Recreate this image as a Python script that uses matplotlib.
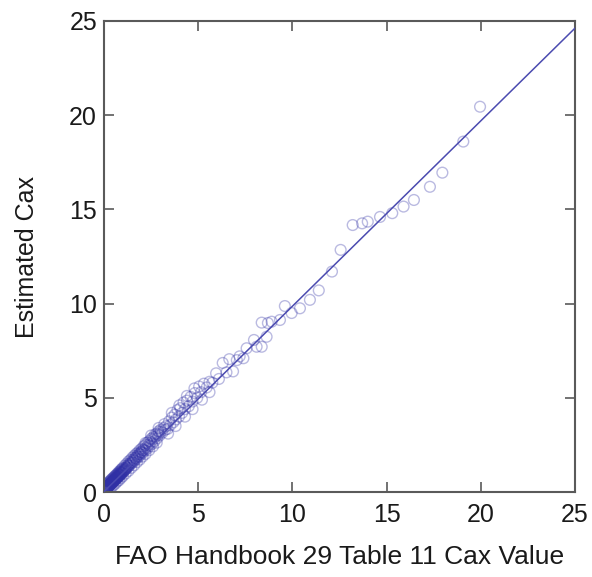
import matplotlib
matplotlib.use("Agg")
import matplotlib.pyplot as plt
import numpy as np

# FAO Handbook 29 Table 11 Cax values (x) and estimated Cax (y)
low_x = [0.02, 0.03, 0.05, 0.06, 0.08, 0.10, 0.11, 0.12, 0.14, 0.15,
         0.17, 0.18, 0.20, 0.21, 0.23, 0.25, 0.26, 0.28, 0.30, 0.31,
         0.33, 0.35, 0.37, 0.39, 0.40, 0.42, 0.44, 0.46, 0.48, 0.50,
         0.52, 0.54, 0.56, 0.58, 0.60, 0.63, 0.65, 0.68, 0.70, 0.72,
         0.75, 0.78, 0.80, 0.83, 0.85, 0.88, 0.90, 0.93, 0.96, 1.00,
         1.03, 1.06, 1.10, 1.13, 1.17, 1.20, 1.25, 1.30, 1.35, 1.42]
low_y = [0.05, 0.08, 0.07, 0.12, 0.10, 0.16, 0.13, 0.19, 0.17, 0.22,
         0.21, 0.26, 0.24, 0.30, 0.27, 0.33, 0.31, 0.36, 0.34, 0.40,
         0.38, 0.43, 0.41, 0.47, 0.45, 0.50, 0.48, 0.54, 0.52, 0.58,
         0.56, 0.62, 0.60, 0.66, 0.64, 0.70, 0.69, 0.75, 0.73, 0.80,
         0.79, 0.85, 0.83, 0.90, 0.88, 0.95, 0.93, 1.00, 1.01, 1.06,
         1.08, 1.12, 1.15, 1.20, 1.22, 1.28, 1.30, 1.38, 1.40, 1.50]

low_extra_x = [0.04, 0.07, 0.09, 0.13, 0.16, 0.19, 0.22, 0.27, 0.32, 0.36,
               0.41, 0.45, 0.49, 0.53, 0.57, 0.62, 0.66, 0.71, 0.76, 0.81,
               0.86, 0.91, 0.97, 1.04, 1.11, 1.18, 1.26, 1.33, 1.41, 1.55,
               1.65, 1.75, 1.85, 1.95, 2.05]
low_extra_y = [0.15, 0.20, 0.18, 0.25, 0.28, 0.33, 0.35, 0.40, 0.46, 0.50,
               0.55, 0.60, 0.63, 0.68, 0.72, 0.78, 0.80, 0.86, 0.92, 0.97,
               1.02, 1.06, 1.12, 1.19, 1.27, 1.33, 1.42, 1.48, 1.58, 1.72,
               1.82, 1.92, 2.02, 2.12, 2.22]

low_above_x = [0.05, 0.10, 0.15, 0.20, 0.25, 0.30, 0.35, 0.40, 0.45, 0.50,
               0.55, 0.60, 0.65, 0.70, 0.75, 0.80, 0.85, 0.90, 0.95, 1.00,
               1.10, 1.20, 1.30, 1.40, 1.50, 1.60, 1.70, 1.80, 1.90, 2.00,
               2.10, 2.20, 2.30, 2.40, 2.50, 2.60, 2.70, 2.80, 2.90, 3.00]
low_above_y = [0.30, 0.35, 0.42, 0.45, 0.52, 0.55, 0.62, 0.66, 0.72, 0.75,
               0.82, 0.86, 0.90, 0.97, 1.00, 1.08, 1.10, 1.18, 1.22, 1.28,
               1.40, 1.50, 1.62, 1.70, 1.82, 1.92, 2.02, 2.10, 2.22, 2.30,
               2.42, 2.50, 2.62, 2.70, 2.82, 2.90, 3.05, 3.10, 3.22, 3.30]

low_below_x = [0.10, 0.20, 0.30, 0.40, 0.50, 0.60, 0.70, 0.80, 0.90, 1.00,
               1.15, 1.30, 1.45, 1.60, 1.75, 1.90, 2.05, 2.20, 2.40, 2.60,
               2.80]
low_below_y = [0.00, 0.08, 0.16, 0.26, 0.35, 0.44, 0.55, 0.63, 0.74, 0.84,
               0.98, 1.12, 1.28, 1.42, 1.58, 1.72, 1.88, 2.02, 2.22, 2.42,
               2.62]

mid_x = [1.48, 1.52, 1.58, 1.62, 1.68, 1.72, 1.78, 1.84, 1.90, 1.95,
         2.00, 2.06, 2.12, 2.18, 2.24, 2.30, 2.36, 2.42, 2.48, 2.55,
         2.62, 2.68, 2.75, 2.82, 2.88, 2.95, 3.02, 3.10, 3.18, 3.25,
         2.20, 2.50, 2.90, 3.20, 3.40, 3.60, 3.80, 4.00, 4.30, 4.40,
         4.70, 4.80, 5.20, 5.60]
mid_y = [1.58, 1.55, 1.68, 1.65, 1.80, 1.75, 1.88, 1.86, 2.02, 1.98,
         2.12, 2.08, 2.25, 2.20, 2.36, 2.30, 2.50, 2.44, 2.62, 2.55,
         2.80, 2.70, 2.95, 2.85, 3.05, 3.00, 3.20, 3.15, 3.40, 3.30,
         2.60, 3.00, 3.40, 3.60, 3.10, 4.20, 3.50, 4.60, 4.00, 5.10,
         4.40, 5.50, 4.90, 5.30]

upmid_x = [3.30, 3.38, 3.45, 3.52, 3.60, 3.68, 3.75, 3.82, 3.90, 3.98,
           4.05, 4.15, 4.22, 4.30, 4.40, 4.50, 4.60, 4.70, 4.82, 4.95,
           5.05, 5.15, 5.30, 5.45, 5.60, 5.75, 5.95, 6.10, 6.30, 6.50,
           6.65, 6.85, 7.05, 7.20, 7.40]
upmid_y = [3.50, 3.35, 3.75, 3.55, 3.95, 3.70, 4.10, 3.85, 4.35, 4.00,
           4.45, 4.20, 4.75, 4.40, 4.85, 4.55, 5.05, 4.80, 5.25, 5.00,
           5.60, 5.30, 5.75, 5.55, 5.85, 5.80, 6.30, 6.00, 6.85, 6.35,
           7.05, 6.40, 7.00, 7.20, 7.10]

high_x = [7.57, 7.96, 8.10, 8.37, 8.37, 8.63, 8.70, 8.90, 9.34, 9.60,
          9.96, 10.40, 10.93, 11.40, 12.10, 12.56, 13.20, 13.70, 14.00, 14.65,
          15.30, 15.90, 16.45, 17.30, 17.96, 19.07, 19.96]
high_y = [7.63, 8.07, 7.71, 7.71, 8.99, 8.24, 8.97, 9.04, 9.13, 9.87,
          9.50, 9.75, 10.20, 10.70, 11.70, 12.85, 14.17, 14.26, 14.35, 14.60,
          14.80, 15.15, 15.50, 16.20, 16.95, 18.60, 20.45]

fao_x = low_x + low_extra_x + low_above_x + low_below_x + mid_x + upmid_x + high_x
est_y = low_y + low_extra_y + low_above_y + low_below_y + mid_y + upmid_y + high_y

fit_slope = 0.984
fit_intercept = 0.02

ticks = [0, 5, 10, 15, 20, 25]

plt.rcParams['font.family'] = ['Liberation Sans', 'DejaVu Sans']

fig = plt.figure(figsize=(5.92, 5.77), dpi=100)
ax = fig.add_axes([104/592, 85/577, 471/592, 471/577])

ax.scatter(fao_x, est_y, s=60, facecolors='none', edgecolors='#3030a5',
           linewidths=1.0, alpha=0.33, zorder=2)
lx = np.array([0, 25])
ax.plot(lx, fit_slope * lx + fit_intercept, color='#4b4bb0', lw=1.1, zorder=3)

ax.set_xlim(0, 25)
ax.set_ylim(0, 25)
ax.set_xticks(ticks)
ax.set_yticks(ticks)
for s in ax.spines.values():
    s.set_color('#5a5a5a')
    s.set_linewidth(1.5)
ax.tick_params(direction='in', top=True, right=True, length=7, width=1.2,
               color='#5a5a5a', labelsize=18, labelcolor='#1a1a1a')
ax.tick_params(axis='x', pad=8)
ax.tick_params(axis='y', pad=5)

ax.set_xlabel('FAO Handbook 29 Table 11 Cax Value', fontsize=19,
              color='#1a1a1a', labelpad=13)
ax.set_ylabel('Estimated Cax', fontsize=18, color='#1a1a1a', labelpad=22)

fig.savefig('out.png', dpi=100)
